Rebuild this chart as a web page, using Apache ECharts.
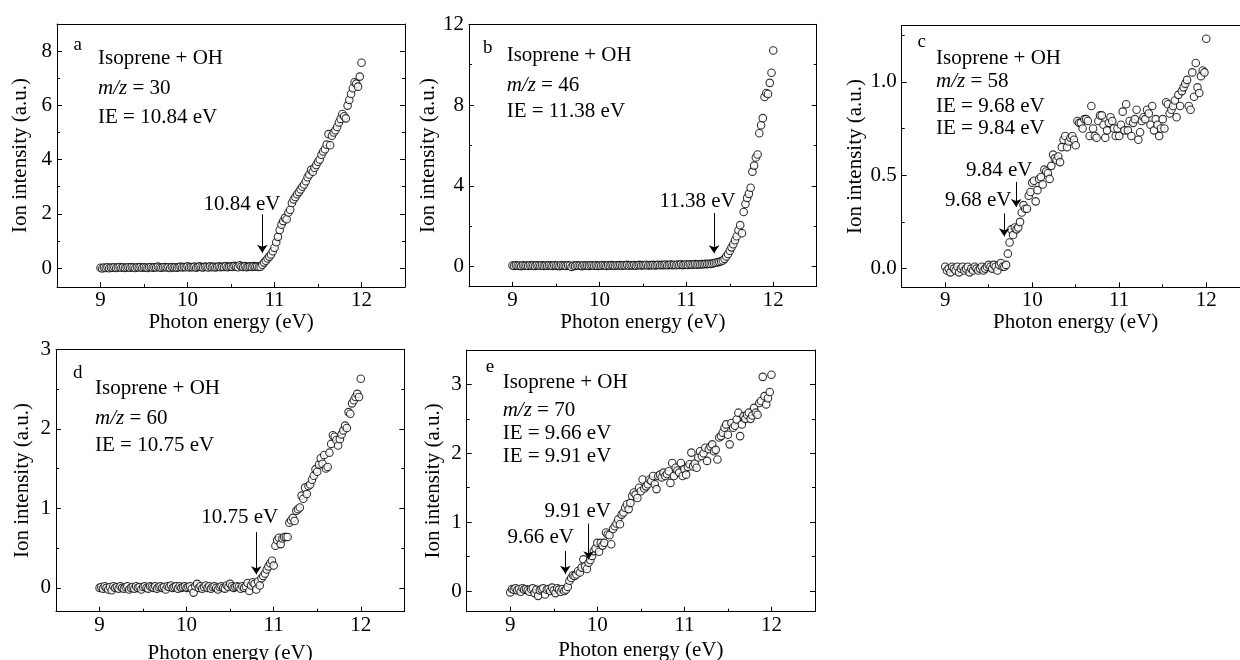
<!DOCTYPE html>
<html><head><meta charset="utf-8">
<script src="https://cdn.jsdelivr.net/npm/echarts@6/dist/echarts.min.js"></script>
<style>html,body{margin:0;padding:0;background:#fff}#c{width:1240px;height:660px}</style>
</head><body><div id="c"></div><script>
// Photon energy grid (eV)
const photonEnergy = [
 9.00,9.02,9.04,9.06,9.08,9.10,9.12,9.14,9.16,9.18,
 9.20,9.22,9.24,9.26,9.28,9.30,9.32,9.34,9.36,9.38,
 9.40,9.42,9.44,9.46,9.48,9.50,9.52,9.54,9.56,9.58,
 9.60,9.62,9.64,9.66,9.68,9.70,9.72,9.74,9.76,9.78,
 9.80,9.82,9.84,9.86,9.88,9.90,9.92,9.94,9.96,9.98,
 10.00,10.02,10.04,10.06,10.08,10.10,10.12,10.14,10.16,10.18,
 10.20,10.22,10.24,10.26,10.28,10.30,10.32,10.34,10.36,10.38,
 10.40,10.42,10.44,10.46,10.48,10.50,10.52,10.54,10.56,10.58,
 10.60,10.62,10.64,10.66,10.68,10.70,10.72,10.74,10.76,10.78,
 10.80,10.82,10.84,10.86,10.88,10.90,10.92,10.94,10.96,10.98,
 11.00,11.02,11.04,11.06,11.08,11.10,11.12,11.14,11.16,11.18,
 11.20,11.22,11.24,11.26,11.28,11.30,11.32,11.34,11.36,11.38,
 11.40,11.42,11.44,11.46,11.48,11.50,11.52,11.54,11.56,11.58,
 11.60,11.62,11.64,11.66,11.68,11.70,11.72,11.74,11.76,11.78,
 11.80,11.82,11.84,11.86,11.88,11.90,11.92,11.94,11.96,11.98,
 12.00];

// (a) m/z = 30
const intensityMz30 = [
 0.01,-0.02,0.02,0.00,0.03,-0.01,0.02,0.01,0.03,0.00,
 0.02,0.04,0.01,0.03,0.00,0.02,0.03,0.01,0.04,0.02,
 0.00,0.03,0.02,0.04,0.01,0.03,0.02,0.00,0.03,0.04,
 0.01,0.03,0.02,0.05,0.02,0.01,0.03,0.04,0.02,0.03,
 0.00,0.04,0.02,0.03,0.01,0.03,0.05,0.02,0.04,0.03,
 0.06,0.02,0.04,0.03,0.05,0.01,0.04,0.06,0.03,0.02,
 0.05,0.04,0.02,0.06,0.03,0.05,0.02,0.04,0.06,0.03,
 0.05,0.04,0.07,0.03,0.05,0.06,0.04,0.08,0.05,0.03,
 0.10,0.06,0.04,0.07,0.03,0.05,0.06,0.04,0.07,0.05,
 0.06,0.04,0.05,0.12,0.20,0.27,0.35,0.42,0.50,0.62,
 0.75,0.95,1.15,1.40,1.60,1.73,1.85,1.80,2.05,2.15,
 2.40,2.53,2.62,2.72,2.80,2.90,3.00,3.08,3.20,3.35,
 3.45,3.62,3.55,3.70,3.80,3.92,4.00,4.18,4.30,4.38,
 4.55,4.94,4.53,4.88,5.00,5.08,5.20,5.37,5.50,5.68,
 5.60,5.52,5.99,6.20,6.42,6.63,6.85,6.80,6.69,7.06,
 7.57];

// (b) m/z = 46
const intensityMz46 = [
 0.05,0.03,0.06,0.04,0.05,0.02,0.06,0.04,0.05,0.03,
 0.06,0.04,0.05,0.03,0.06,0.05,0.04,0.06,0.03,0.05,
 0.04,0.06,0.05,0.03,0.06,0.04,0.05,0.02,0.06,0.04,
 0.05,0.03,0.06,0.04,-0.02,0.05,0.03,0.06,0.04,0.05,
 0.02,0.06,0.04,0.05,0.03,0.06,0.05,0.04,0.06,0.03,
 0.05,0.04,0.06,0.05,0.03,0.06,0.04,0.07,0.05,0.04,
 0.06,0.05,0.07,0.04,0.06,0.05,0.08,0.04,0.06,0.05,
 0.07,0.04,0.06,0.08,0.05,0.07,0.06,0.09,0.05,0.07,
 0.06,0.08,0.05,0.07,0.09,0.06,0.08,0.07,0.10,0.06,
 0.08,0.10,0.07,0.09,0.06,0.10,0.08,0.11,0.07,0.09,
 0.10,0.08,0.11,0.09,0.10,0.12,0.09,0.11,0.10,0.12,
 0.11,0.13,0.12,0.14,0.13,0.15,0.17,0.19,0.21,0.23,
 0.26,0.30,0.38,0.50,0.62,0.78,0.95,1.10,1.30,1.50,
 1.80,2.05,1.65,2.70,3.10,3.40,3.60,3.90,4.70,5.00,
 5.40,5.55,6.60,7.00,7.35,8.40,8.60,8.55,9.10,9.60,
 10.70];

// (c) m/z = 58
const intensityMz58 = [
 0.01,-0.01,0.00,-0.02,0.01,0.00,-0.01,0.01,-0.02,0.00,
 0.01,-0.01,0.00,0.01,-0.02,0.00,-0.01,0.01,0.00,-0.01,
 0.00,0.01,-0.01,0.00,0.01,0.02,0.01,0.00,0.02,0.01,
 -0.01,0.02,0.03,0.01,0.01,0.02,0.08,0.14,0.21,0.18,
 0.22,0.21,0.22,0.25,0.30,0.34,0.32,0.32,0.39,0.41,
 0.46,0.47,0.36,0.42,0.48,0.49,0.45,0.53,0.52,0.51,
 0.48,0.55,0.61,0.59,0.58,0.60,0.57,0.65,0.69,0.71,
 0.65,0.68,0.70,0.71,0.69,0.66,0.79,0.78,0.78,0.75,
 0.80,0.80,0.79,0.71,0.87,0.75,0.71,0.70,0.79,0.82,
 0.82,0.77,0.70,0.74,0.78,0.81,0.79,0.75,0.71,0.75,
 0.71,0.77,0.84,0.74,0.88,0.74,0.79,0.71,0.78,0.80,
 0.85,0.69,0.73,0.79,0.81,0.80,0.85,0.83,0.77,0.87,
 0.74,0.80,0.77,0.71,0.75,0.80,0.75,0.89,0.88,0.83,
 0.85,0.87,0.90,0.81,0.93,0.87,0.95,0.97,0.99,1.01,
 0.87,0.85,1.05,0.92,1.10,0.97,0.94,1.03,1.06,1.05,
 1.23];

// (d) m/z = 60
const intensityMz60 = [
 0.00,0.01,-0.01,0.02,0.00,-0.02,0.01,-0.03,0.02,0.00,
 0.01,-0.01,0.02,0.00,-0.01,0.01,0.02,-0.02,0.00,0.01,
 -0.01,0.02,0.00,0.01,-0.02,0.01,0.02,0.00,-0.01,0.02,
 0.01,0.00,0.02,-0.01,0.01,0.02,0.00,0.01,-0.02,0.02,
 0.01,0.03,0.00,0.01,0.02,-0.01,0.02,0.00,0.01,0.02,
 0.00,0.01,0.02,-0.01,-0.06,0.02,0.05,0.00,0.02,-0.01,
 0.01,0.03,0.00,0.02,-0.01,0.01,0.02,0.00,-0.02,0.01,
 0.02,0.00,-0.01,0.03,0.01,0.05,0.02,0.00,0.01,0.02,
 0.01,-0.01,0.02,0.00,0.02,0.06,-0.04,0.03,0.07,0.05,
 -0.02,0.08,0.03,0.12,0.15,0.18,0.23,0.27,0.31,0.34,
 0.28,0.53,0.60,0.63,0.55,0.62,0.64,0.64,0.64,0.82,
 0.85,0.88,0.84,0.97,0.99,1.01,1.16,1.12,1.26,1.18,
 1.28,1.30,1.36,1.41,1.49,1.46,1.55,1.63,1.56,1.67,
 1.50,1.52,1.70,1.81,1.92,1.90,1.86,1.79,1.87,1.93,
 1.98,2.04,2.01,2.21,2.19,2.32,2.36,2.40,2.44,2.40,
 2.63];

// (e) m/z = 70
const intensityMz70 = [
 -0.02,0.03,0.02,0.04,0.01,0.03,-0.01,0.04,0.02,0.03,
 0.01,-0.01,0.03,0.04,-0.03,0.02,-0.07,0.01,0.03,0.04,
 -0.05,0.02,0.03,0.00,0.05,0.01,-0.03,0.04,0.02,-0.01,
 0.03,0.00,0.02,0.06,0.15,0.19,0.23,0.22,0.24,0.29,
 0.27,0.34,0.46,0.36,0.32,0.41,0.45,0.51,0.58,0.62,
 0.70,0.57,0.70,0.66,0.70,0.85,0.82,0.81,0.68,0.90,
 0.94,0.98,1.04,0.97,1.11,1.14,1.21,1.26,1.19,1.28,
 1.38,1.43,1.40,1.35,1.50,1.45,1.62,1.49,1.52,1.55,
 1.62,1.60,1.67,1.55,1.48,1.67,1.69,1.65,1.72,1.67,
 1.70,1.74,1.57,1.86,1.67,1.79,1.75,1.72,1.86,1.67,
 1.77,1.69,1.80,1.84,2.01,1.81,1.85,1.79,1.94,2.03,
 1.96,2.00,2.08,1.89,2.06,2.10,2.13,2.03,2.05,1.91,
 2.23,2.25,2.30,2.37,2.42,2.27,2.13,2.44,2.37,2.40,
 2.49,2.59,2.25,2.42,2.54,2.50,2.56,2.59,2.50,2.55,
 2.66,2.59,2.56,2.73,2.76,3.11,2.83,2.71,2.80,2.89,
 3.14];

// Tick values
const xTicksMajor = [9, 10, 11, 12];
const xTicksMinor = [9.5, 10.5, 11.5];
const yTicksMajorA = [0, 2, 4, 6, 8],   yTicksMinorA = [1, 3, 5, 7];
const yTicksMajorB = [0, 4, 8, 12],     yTicksMinorB = [2, 6, 10];
const yTicksMajorC = [0, 0.5, 1.0],     yTicksMinorC = [0.25, 0.75, 1.25];
const yTicksMajorD = [0, 1, 2, 3],      yTicksMinorD = [0.5, 1.5, 2.5];
const yTicksMajorE = [0, 1, 2, 3],      yTicksMinorE = [0.5, 1.5, 2.5];

// Panel texts
const textA = ['Isoprene + OH', '{i|m/z} = 30', 'IE = 10.84 eV'];
const textB = ['Isoprene + OH', '{i|m/z} = 46', 'IE = 11.38 eV'];
const textC = ['Isoprene + OH', '{i|m/z} = 58', 'IE = 9.68 eV', 'IE = 9.84 eV'];
const textD = ['Isoprene + OH', '{i|m/z} = 60', 'IE = 10.75 eV'];
const textE = ['Isoprene + OH', '{i|m/z} = 70', 'IE = 9.66 eV', 'IE = 9.91 eV'];

// Arrow annotations (data space): arrow x, from y, to y, label, label x, label y
const arrowsA = [[10.86, 1.98, 0.56, '10.84 eV', 10.625, 2.35]];
const arrowsB = [[11.32, 2.65, 0.66, '11.38 eV', 11.13, 3.2]];
const arrowsC = [[9.678, 0.295, 0.173, '9.68 eV', 9.38, 0.366], [9.816, 0.464, 0.33, '9.84 eV', 9.62, 0.527]];
const arrowsD = [[10.80, 0.70, 0.17, '10.75 eV', 10.61, 0.884]];
const arrowsE = [[9.633, 0.58, 0.25, '9.66 eV', 9.35, 0.774], [9.90, 0.98, 0.46, '9.91 eV', 9.775, 1.16]];

const FONT = 'Liberation Serif';
const FS = 21;
const BLACK = '#000';

const panels = [
 {y: intensityMz30, ymin: -0.7, ymax: 9, major: yTicksMajorA, minor: yTicksMinorA, dec: 0, arrows: arrowsA, lines: textA, letter: 'a',
  grid: {left: 57, top: 24, width: 348, height: 263}, xGap: 23, yGap: 26, lpos: [20.7, 21], tx: 41, ty: [34, 64, 93]},
 {y: intensityMz46, ymin: -1, ymax: 12, major: yTicksMajorB, minor: yTicksMinorB, dec: 0, arrows: arrowsB, lines: textB, letter: 'b',
  grid: {left: 469, top: 24.3, width: 347.7, height: 262.4}, xGap: 23, yGap: 26, lpos: [18.7, 24], tx: 37.7, ty: [30.7, 60.7, 87.4]},
 {y: intensityMz58, ymin: -0.1, ymax: 1.3, major: yTicksMajorC, minor: yTicksMinorC, dec: 1, arrows: arrowsC, lines: textC, letter: 'c',
  grid: {left: 901.7, top: 25.7, width: 348, height: 261.6}, xGap: 23, yGap: 36, lpos: [20, 16], tx: 34.3, ty: [32.6, 56, 80.3, 102.6]},
 {y: intensityMz60, ymin: -0.3, ymax: 3, major: yTicksMajorD, minor: yTicksMinorD, dec: 0, arrows: arrowsD, lines: textD, letter: 'd',
  grid: {left: 56, top: 349.3, width: 348.3, height: 262.4}, xGap: 31, yGap: 23, lpos: [21.7, 24], tx: 39, ty: [39, 69, 95.7]},
 {y: intensityMz70, ymin: -0.3, ymax: 3.5, major: yTicksMajorE, minor: yTicksMinorE, dec: 0, arrows: arrowsE, lines: textE, letter: 'e',
  grid: {left: 466.7, top: 350, width: 348.3, height: 261.7}, xGap: 28, yGap: 23, lpos: [23.3, 17.3], tx: 36, ty: [32.7, 60, 83.3, 106.7]}
];

const lineStyle = {color: BLACK, width: 1};
const grids = [], xAxes = [], yAxes = [], series = [], graphics = [];

panels.forEach((p, g) => {
  grids.push(Object.assign({containLabel: false, outerBoundsMode: 'none'}, p.grid));
  const xBase = {gridIndex: g, type: 'value', min: 8.5, max: 12.5, splitLine: {show: false}};
  const yBase = {gridIndex: g, type: 'value', min: p.ymin, max: p.ymax, splitLine: {show: false}};
  const xi = xAxes.length, yi = yAxes.length;
  xAxes.push(Object.assign({}, xBase, {
    position: 'bottom',
    name: 'Photon energy (eV)', nameLocation: 'middle', nameGap: p.xGap,
    nameTextStyle: {fontFamily: FONT, fontSize: FS, color: BLACK},
    axisLine: {show: true, onZero: false, lineStyle},
    axisTick: {show: true, inside: true, length: 5, customValues: xTicksMajor, lineStyle},
    axisLabel: {show: true, customValues: xTicksMajor, margin: 3, fontFamily: FONT, fontSize: FS, color: BLACK}
  }));
  xAxes.push(Object.assign({}, xBase, {
    position: 'bottom',
    axisLine: {show: false, onZero: false},
    axisTick: {show: true, inside: true, length: 3, customValues: xTicksMinor, lineStyle},
    axisLabel: {show: false}
  }));
  xAxes.push(Object.assign({}, xBase, {
    position: 'top',
    axisLine: {show: true, onZero: false, lineStyle},
    axisTick: {show: false}, axisLabel: {show: false}
  }));
  yAxes.push(Object.assign({}, yBase, {
    position: 'left',
    name: 'Ion intensity (a.u.)', nameLocation: 'middle', nameGap: p.yGap, nameRotate: 90,
    nameTextStyle: {fontFamily: FONT, fontSize: FS, color: BLACK},
    axisLine: {show: true, onZero: false, lineStyle},
    axisTick: {show: true, inside: true, length: 5, customValues: p.major, lineStyle},
    axisLabel: {show: true, customValues: p.major, margin: 5, fontFamily: FONT, fontSize: FS, color: BLACK,
      formatter: v => p.dec ? Number(v).toFixed(p.dec) : String(Math.round(v))}
  }));
  yAxes.push(Object.assign({}, yBase, {
    position: 'left',
    axisLine: {show: false, onZero: false},
    axisTick: {show: true, inside: true, length: 3, customValues: p.minor, lineStyle},
    axisLabel: {show: false}
  }));
  yAxes.push(Object.assign({}, yBase, {
    position: 'right',
    axisLine: {show: true, onZero: false, lineStyle},
    axisTick: {show: true, inside: true, length: 5, customValues: p.major, lineStyle},
    axisLabel: {show: false}
  }));
  yAxes.push(Object.assign({}, yBase, {
    position: 'right',
    axisLine: {show: false, onZero: false},
    axisTick: {show: true, inside: true, length: 3, customValues: p.minor, lineStyle},
    axisLabel: {show: false}
  }));

  series.push({
    type: 'scatter', xAxisIndex: xi, yAxisIndex: yi,
    data: photonEnergy.map((x, i) => [x, p.y[i]]),
    symbol: 'circle', symbolSize: 7.5,
    itemStyle: {color: '#fff', borderColor: BLACK, borderWidth: 1.1},
    silent: true, animation: false,
    markLine: {
      silent: true, animation: false, symbol: ['none', 'arrow'], symbolSize: 8,
      lineStyle: {color: BLACK, width: 1, type: 'solid'},
      label: {show: false},
      data: p.arrows.map(a => [{coord: [a[0], a[1]]}, {coord: [a[0], a[2]]}])
    },
    markPoint: {
      silent: true, animation: false, symbol: 'circle', symbolSize: 0,
      label: {show: true, position: 'inside', formatter: '{b}', fontFamily: FONT, fontSize: FS, color: BLACK},
      data: p.arrows.map(a => ({name: a[3], coord: [a[4], a[5]]}))
    }
  });

  graphics.push({
    type: 'text', x: p.grid.left + p.lpos[0], y: p.grid.top + p.lpos[1], silent: true,
    style: {text: p.letter, fontFamily: FONT, fontSize: 19, fill: BLACK, align: 'center', verticalAlign: 'middle'}
  });
  p.lines.forEach((t, k) => {
    graphics.push({
      type: 'text', x: p.grid.left + p.tx, y: p.grid.top + p.ty[k], silent: true,
      style: {text: t, fontFamily: FONT, fontSize: FS, fill: BLACK, align: 'left', verticalAlign: 'middle',
        rich: {i: {fontStyle: 'italic', fontFamily: FONT, fontSize: FS, fill: BLACK}}}
    });
  });
});

const chart = echarts.init(document.getElementById('c'), null, {renderer: 'canvas'});
chart.setOption({
  backgroundColor: '#fff',
  animation: false,
  grid: grids, xAxis: xAxes, yAxis: yAxes, series: series, graphic: graphics
});
</script></body></html>
